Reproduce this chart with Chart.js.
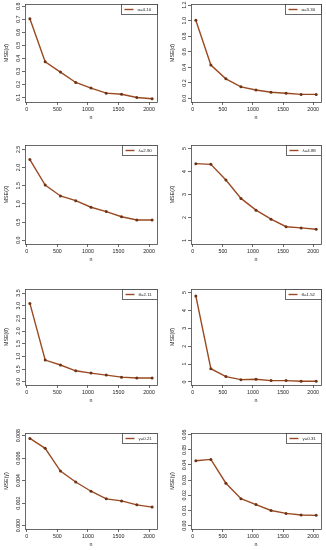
<!DOCTYPE html>
<html>
<head>
<meta charset="utf-8">
<script src="https://cdn.jsdelivr.net/npm/chart.js@4"></script>
<style>
  html, body { margin: 0; padding: 0; background: #fff; }
  body { width: 326px; height: 550px; position: relative; overflow: hidden; }
  canvas { position: absolute; }
</style>
</head>
<body>
<script>
// sample sizes (x axis) and tick labels
const nValues = [50, 300, 550, 800, 1050, 1300, 1550, 1800, 2050];
const xTicks = [0, 500, 1000, 1500, 2000];

// legend texts and y titles per panel
const legendTexts = ['α=4.10', 'α=3.30', 'λ=2.90', 'λ=4.88', 'θ=2.11', 'θ=1.52', 'γ=0.21', 'γ=0.31'];
const yTitles = ['MSE(α\u0302)', 'MSE(α\u0302)', 'MSE(λ\u0302)', 'MSE(λ\u0302)', 'MSE(θ\u0302)', 'MSE(θ\u0302)', 'MSE(γ\u0302)', 'MSE(γ\u0302)'];

// MSE values
const mseAlpha1 = [0.705, 0.374, 0.295, 0.215, 0.172, 0.133, 0.125, 0.100, 0.090];
const mseAlpha2 = [1.005, 0.430, 0.253, 0.150, 0.110, 0.080, 0.067, 0.053, 0.053];
const mseLambda1 = [2.22, 1.52, 1.22, 1.09, 0.91, 0.79, 0.65, 0.56, 0.56];
const mseLambda2 = [4.34, 4.31, 3.63, 2.83, 2.32, 1.93, 1.60, 1.55, 1.49];
const mseTheta1 = [3.09, 0.855, 0.66, 0.43, 0.34, 0.26, 0.18, 0.145, 0.145];
const mseTheta2 = [4.81, 0.74, 0.30, 0.13, 0.15, 0.075, 0.075, 0.04, 0.04];
const mseGamma1 = [0.00776, 0.00688, 0.00485, 0.00388, 0.00306, 0.00238, 0.0022, 0.00185, 0.00165];
const mseGamma2 = [0.0428, 0.0437, 0.028, 0.0178, 0.0139, 0.0100, 0.0081, 0.0070, 0.0068];

// y tick labels per panel
const yTicks1 = ['0.1', '0.2', '0.3', '0.4', '0.5', '0.6', '0.7', '0.8'];
const yTicks2 = ['0.0', '0.2', '0.4', '0.6', '0.8', '1.0', '1.2'];
const yTicks3 = ['0.0', '0.5', '1.0', '1.5', '2.0', '2.5'];
const yTicks4 = ['1', '2', '3', '4', '5'];
const yTicks5 = ['0.0', '0.5', '1.0', '1.5', '2.0', '2.5', '3.0', '3.5'];
const yTicks6 = ['0', '1', '2', '3', '4', '5'];
const yTicks7 = ['0.000', '0.002', '0.004', '0.006', '0.008'];
const yTicks8 = ['0.00', '0.01', '0.02', '0.03', '0.04', '0.05', '0.06'];

const allSeries = [mseAlpha1, mseAlpha2, mseLambda1, mseLambda2, mseTheta1, mseTheta2, mseGamma1, mseGamma2];
const allYTicks = [yTicks1, yTicks2, yTicks3, yTicks4, yTicks5, yTicks6, yTicks7, yTicks8];

// axis limits (R style, a bit wider than the ticks)
const yLimits = [
  [0.065, 0.818], [-0.045, 1.215],
  [-0.1, 2.62], [0.85, 5.15],
  [-0.13, 3.66], [-0.17, 5.2],
  [-0.0003, 0.00824], [-0.0022, 0.0611]
];

// layout of the 4x2 grid
const plotTops = [4, 145, 289, 433];
const plotHeights = [98, 99, 96, 96];
const plotLefts = [25, 28];
const plotRights = [157, 158];
const titlePads = [3, 6];

Chart.defaults.font.family = '"Liberation Sans", Arial, sans-serif';
Chart.defaults.color = '#222';

const framePlugin = {
  id: 'frame',
  afterDraw(chart, args, opts) {
    const ctx = chart.ctx;
    const a = chart.chartArea;
    ctx.save();
    // box round the plot
    ctx.strokeStyle = '#444';
    ctx.lineWidth = 0.8;
    ctx.strokeRect(Math.round(a.left) + 0.5, Math.round(a.top) + 0.5, Math.round(a.width), Math.round(a.height));

    // y tick labels, vertical like in R
    const ys = chart.scales.y;
    ctx.fillStyle = '#222';
    ctx.font = '5.3px "Liberation Sans", Arial, sans-serif';
    ctx.textAlign = 'center';
    ctx.textBaseline = 'middle';
    opts.yLabels.forEach(t => {
      const y = ys.getPixelForValue(Number(t));
      ctx.save();
      ctx.translate(a.left - 6.5, y);
      ctx.rotate(-Math.PI / 2);
      ctx.fillText(t, 0, 0);
      ctx.restore();
    });

    // legend box in the top right corner
    ctx.font = '4.4px "Liberation Sans", Arial, sans-serif';
    const tw = ctx.measureText(opts.legend).width;
    const w = 3 + 9 + 4 + tw + 6;
    const h = 10;
    const lx = Math.round(a.right - w) + 0.5;
    const ly = Math.round(a.top) + 0.5;
    ctx.fillStyle = '#fff';
    ctx.fillRect(lx, ly, w, h);
    ctx.strokeStyle = '#444';
    ctx.lineWidth = 0.8;
    ctx.strokeRect(lx, ly, Math.round(a.right) + 0.5 - lx, h);
    ctx.strokeStyle = '#9a4a22';
    ctx.lineWidth = 1.4;
    ctx.beginPath();
    ctx.moveTo(lx + 3, ly + h / 2);
    ctx.lineTo(lx + 12, ly + h / 2);
    ctx.stroke();
    ctx.fillStyle = '#222';
    ctx.textAlign = 'left';
    ctx.fillText(opts.legend, lx + 16, ly + h / 2);
    ctx.restore();
  }
};

allSeries.forEach((series, i) => {
  const row = Math.floor(i / 2);
  const col = i % 2;
  const canvas = document.createElement('canvas');
  const height = 4 + plotHeights[row] + 22;
  canvas.width = 163;
  canvas.height = height;
  canvas.style.left = (col * 163) + 'px';
  canvas.style.top = (plotTops[row] - 4) + 'px';
  canvas.style.width = '163px';
  canvas.style.height = height + 'px';
  document.body.appendChild(canvas);

  new Chart(canvas, {
    type: 'line',
    data: {
      datasets: [{
        label: legendTexts[i],
        data: nValues.map((n, k) => ({ x: n, y: series[k] })),
        borderColor: '#9a4a22',
        borderWidth: 1.4,
        pointRadius: 1.5,
        pointBackgroundColor: '#6e3214',
        pointBorderColor: '#6e3214',
        pointBorderWidth: 0,
        tension: 0,
        fill: false
      }]
    },
    options: {
      responsive: false,
      animation: false,
      layout: { padding: { top: 4, right: 163 - plotRights[col], bottom: 2, left: 0 } },
      plugins: {
        legend: { display: false },
        tooltip: { enabled: false },
        frame: { yLabels: allYTicks[i], legend: legendTexts[i] }
      },
      scales: {
        x: {
          type: 'linear',
          min: -30,
          max: 2130,
          afterBuildTicks: s => { s.ticks = xTicks.map(v => ({ value: v })); },
          afterFit: s => { s.height = 20; },
          border: { display: false },
          grid: { drawOnChartArea: false, drawTicks: true, tickLength: 3, color: '#444', lineWidth: 0.8 },
          ticks: { font: { size: 5.3 }, padding: 1, maxRotation: 0, autoSkip: false, callback: v => String(v) },
          title: { display: true, text: 'n', font: { size: 5.3 }, padding: { top: 0, bottom: 1 } }
        },
        y: {
          type: 'linear',
          min: yLimits[i][0],
          max: yLimits[i][1],
          afterBuildTicks: s => { s.ticks = allYTicks[i].map(t => ({ value: Number(t) })); },
          afterFit: s => { s.width = plotLefts[col]; },
          border: { display: false },
          grid: { drawOnChartArea: false, drawTicks: true, tickLength: 3, color: '#444', lineWidth: 0.8 },
          ticks: { display: false },
          title: { display: true, text: yTitles[i], font: { size: 5.3 }, padding: { top: titlePads[col], bottom: 0 } }
        }
      }
    },
    plugins: [framePlugin]
  });
});
</script>
</body>
</html>
